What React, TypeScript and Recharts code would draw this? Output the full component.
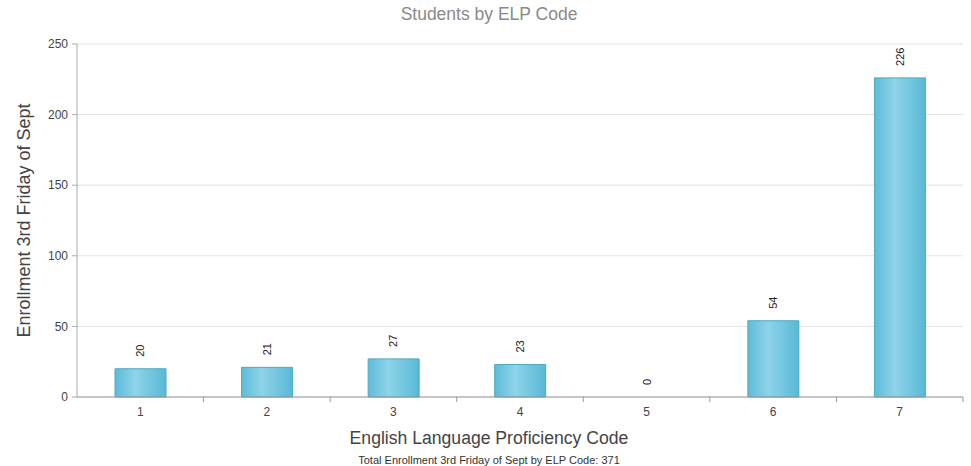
import React from 'react';
import { ComposedChart, Bar, Line, XAxis, YAxis, CartesianGrid } from 'recharts';

const categories = ['1', '2', '3', '4', '5', '6', '7'];
const enrollment = [20, 21, 27, 23, 0, 54, 226];
const yTicks = [0, 50, 100, 150, 200, 250];
const titleText = 'Students by ELP Code';
const xLabelText = 'English Language Proficiency Code';
const yLabelText = 'Enrollment 3rd Friday of Sept';
const footerText = 'Total Enrollment 3rd Friday of Sept by ELP Code: 371';

const data = categories.map((c, i) => ({ code: c, value: enrollment[i] }));

const FONT = '"Liberation Sans", Arial, sans-serif';

const CatTick = (props: any) => {
  const { x, y, payload } = props;
  const off = payload && payload.offset ? payload.offset : 0;
  const axisY = y - 10;
  return (
    <g>
      <line x1={x + off} x2={x + off} y1={axisY} y2={axisY + 5} stroke="#999" />
      <text x={x} y={y} dy="0.71em" textAnchor="middle" fill="#444" fontSize={12} fontFamily={FONT}>
        {payload.value}
      </text>
    </g>
  );
};

const ValueLabel = (props: any) => {
  const { x, y, value } = props;
  const cx = x;
  const cy = y - 12;
  return (
    <text
      x={cx}
      y={cy}
      transform={`rotate(-90 ${cx} ${cy})`}
      textAnchor="start"
      dominantBaseline="central"
      fill="#222"
      fontSize={11}
      fontFamily={FONT}
    >
      {value}
    </text>
  );
};

export default function App() {
  return (
    <div style={{ position: 'absolute', left: 0, top: 0, width: 971, height: 466, background: '#fff', fontFamily: FONT }}>
      <div style={{ position: 'absolute', top: 4, left: 0, width: 978, textAlign: 'center', fontSize: 17.5, color: '#8a8a8a' }}>
        {titleText}
      </div>
      <ComposedChart width={971} height={466} data={data} margin={{ top: 44, right: 8, bottom: 0, left: 0 }}>
        <defs>
          <linearGradient id="barGrad" x1="0" y1="0" x2="1" y2="0">
            <stop offset="0%" stopColor="#5cbcd9" />
            <stop offset="40%" stopColor="#8fd3e9" />
            <stop offset="100%" stopColor="#58b9d6" />
          </linearGradient>
        </defs>
        <CartesianGrid vertical={false} stroke="#e3e3e3" />
        <XAxis
          dataKey="code"
          tick={<CatTick />}
          tickLine={false}
          tickSize={5}
          tickMargin={5}
          axisLine={{ stroke: '#999' }}
          height={69}
        />
        <YAxis
          width={77}
          domain={[0, 250]}
          ticks={yTicks}
          tick={{ fill: '#444', fontSize: 12, fontFamily: FONT }}
          tickLine={{ stroke: '#aaa' }}
          tickSize={5}
          tickMargin={4}
          axisLine={{ stroke: '#aaa' }}
          label={{
            value: yLabelText,
            angle: -90,
            position: 'insideLeft',
            offset: 24,
            style: { textAnchor: 'middle', fill: '#444', fontSize: 18, fontFamily: FONT },
          }}
        />
        <Bar
          dataKey="value"
          fill="url(#barGrad)"
          stroke="#4ea9c2"
          strokeWidth={1}
          barSize={51}
          isAnimationActive={false}
        />
        <Line
          dataKey="value"
          stroke="none"
          dot={false}
          activeDot={false}
          legendType="none"
          isAnimationActive={false}
          label={<ValueLabel />}
        />
      </ComposedChart>
      <div style={{ position: 'absolute', top: 428, left: 0, width: 978, textAlign: 'center', fontSize: 17.6, color: '#444' }}>
        {xLabelText}
      </div>
      <div style={{ position: 'absolute', top: 454, left: 0, width: 978, textAlign: 'center', fontSize: 11, color: '#333' }}>
        {footerText}
      </div>
    </div>
  );
}
